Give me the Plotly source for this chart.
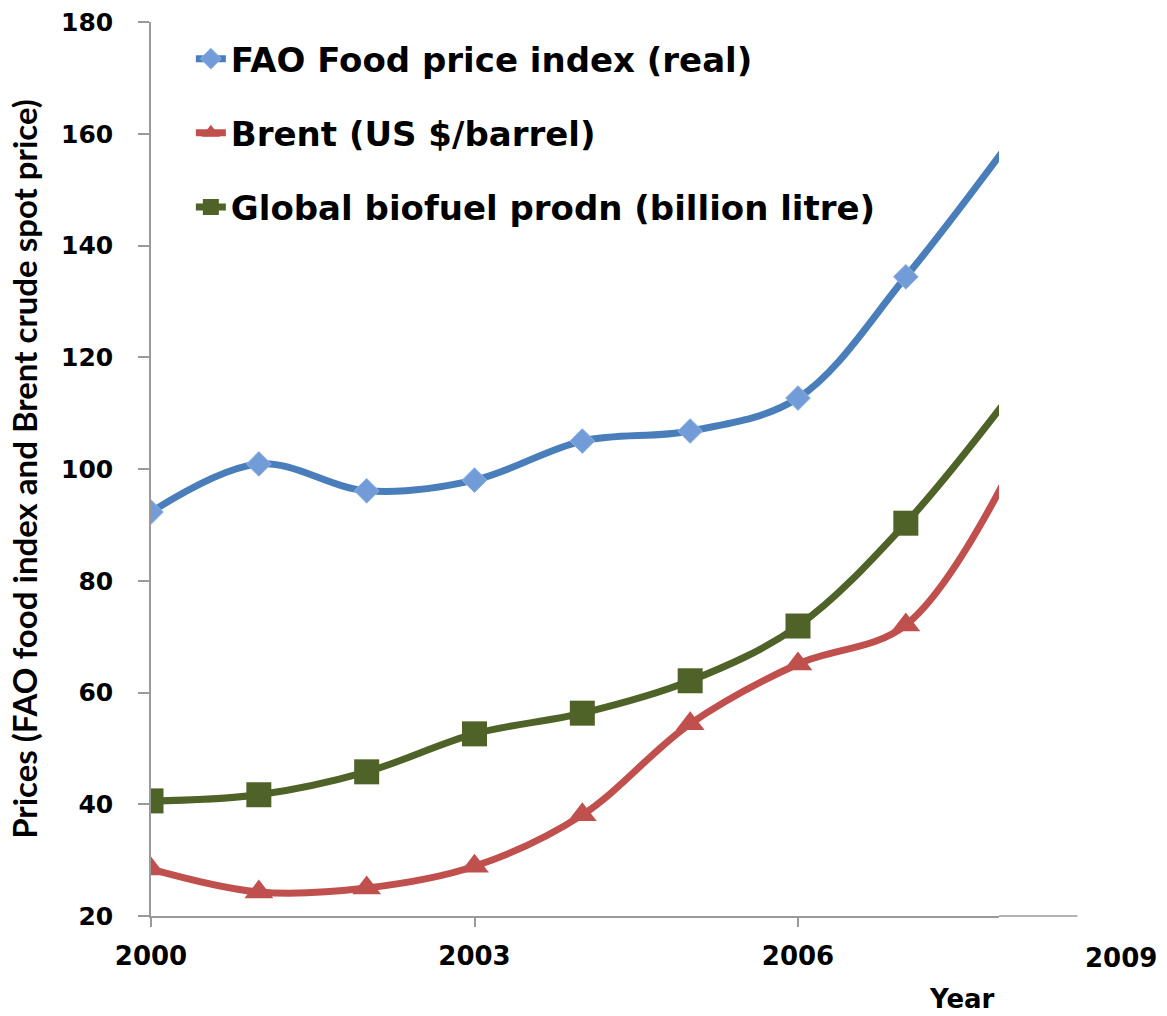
import plotly.graph_objects as go

years = [2000, 2001, 2002, 2003, 2004, 2005, 2006, 2007, 2008]
fao_food_index = [92.3, 100.9, 96.1, 98.0, 105.0, 106.8, 112.7, 134.4, 159.5]
brent_price = [28.4, 24.3, 25.0, 28.9, 38.1, 54.4, 65.1, 72.1, 101.0]
biofuel_prodn = [40.6, 41.7, 45.8, 52.6, 56.3, 62.1, 71.9, 90.3, 114.0]

series_names = ["FAO Food price index (real)", "Brent (US $/barrel)",
                "Global biofuel prodn (billion litre)"]
x_tick_vals = [2000, 2003, 2006]
x_tick_text = ["2000", "2003", "2006"]
x_extra_tick = 2009
y_tick_vals = [20, 40, 60, 80, 100, 120, 140, 160, 180]

# plot area ends before the last year (lines are cut off in the original)
x_range = [2000, 2007.864]
y_range = [20, 180]

FONT = "DejaVu Sans"

fig = go.Figure()
fig.add_trace(go.Scatter(
    x=years, y=fao_food_index, name=series_names[0], mode="lines+markers",
    line=dict(color="#4A7EBB", width=7, shape="spline", smoothing=1.0),
    marker=dict(symbol="diamond", size=19, color="#729CD8",
                line=dict(color="#8FB2E3", width=1)),
    legendgroup="a"))
fig.add_trace(go.Scatter(
    x=years, y=brent_price, name=series_names[1], mode="lines+markers",
    line=dict(color="#C0504D", width=7, shape="spline", smoothing=1.0),
    marker=dict(symbol="triangle-up", size=25, color="#C0504D"),
    legendgroup="b"))
fig.add_trace(go.Scatter(
    x=years, y=biofuel_prodn, name=series_names[2], mode="lines+markers",
    line=dict(color="#4F6228", width=7, shape="spline", smoothing=1.0),
    marker=dict(symbol="square", size=25, color="#4F6228"),
    legendgroup="c"))

L, R, T, B = 151, 168, 22, 100
W, H = 1167, 1016
plot_w = W - L - R

fig.update_layout(
    width=W, height=H,
    margin=dict(l=L, r=R, t=T, b=B, autoexpand=False),
    paper_bgcolor="white", plot_bgcolor="white",
    font=dict(family=FONT, color="black"),
    showlegend=True,
    legend=dict(x=0.047, y=0.991, xanchor="left", yanchor="top",
                font=dict(family=FONT, size=34, color="black", weight="bold"),
                bgcolor="rgba(0,0,0,0)", traceorder="grouped",
                tracegroupgap=27, itemwidth=30),
    xaxis=dict(range=x_range, tickvals=x_tick_vals, ticktext=x_tick_text,
               showgrid=False, zeroline=False, showline=True, automargin=False,
               linecolor="#9A9A9A", linewidth=1.5,
               ticks="outside", ticklen=9, tickcolor="#9A9A9A", tickwidth=1.5,
               tickfont=dict(family=FONT, size=26, color="black", weight="bold"),
               ticklabelstandoff=7),
    yaxis=dict(range=y_range, tickvals=y_tick_vals, automargin=False,
               showgrid=False, zeroline=False, showline=True,
               linecolor="#9A9A9A", linewidth=1.5,
               ticks="outside", ticklen=11, tickcolor="#9A9A9A", tickwidth=1.5,
               tickfont=dict(family=FONT, size=25, color="black", weight="bold"),
               ticklabelstandoff=20,
               title=dict(text="Prices (FAO food index and Brent crude spot price)",
                          font=dict(family="Lato", size=33,
                                    color="black", weight="bold"),
                          standoff=14)),
)

# last x tick label (2009) lies beyond the clipped plot area
x_frac_2009 = (x_extra_tick - x_range[0]) / (x_range[1] - x_range[0])
fig.add_annotation(x=x_frac_2009, y=0, xref="paper", yref="paper",
                   text=str(x_extra_tick), showarrow=False,
                   xanchor="center", yanchor="top", yshift=-25,
                   font=dict(family=FONT, size=26, color="black", weight="bold"))
# axis line continuation
fig.add_shape(type="line", xref="paper", yref="paper",
              x0=1, x1=x_frac_2009 - 0.052, y0=0, y1=0,
              line=dict(color="#9A9A9A", width=1.5))
fig.add_annotation(x=(962 - L) / plot_w, y=0, xref="paper", yref="paper",
                   text="Year", showarrow=False, xanchor="center", yanchor="top",
                   yshift=-66,
                   font=dict(family=FONT, size=26, color="black", weight="bold"))

fig.write_html("out.html", config={"displayModeBar": False},
               post_script="document.body.style.margin='0';")
